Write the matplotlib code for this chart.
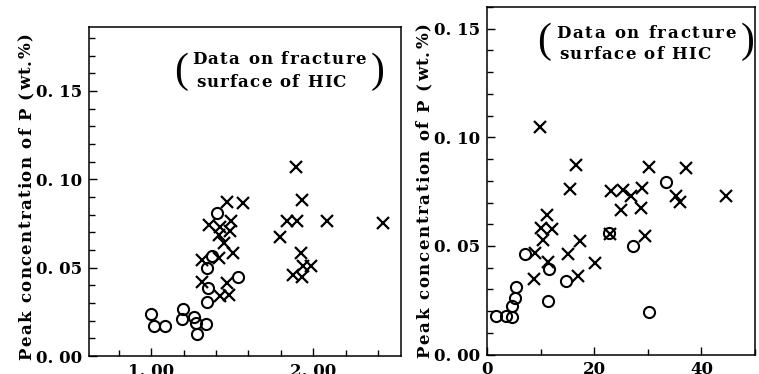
import matplotlib.pyplot as plt
from matplotlib.ticker import MultipleLocator
from matplotlib.font_manager import FontProperties, findfont
from matplotlib.ft2font import FT2Font
from matplotlib.transforms import offset_copy

# left panel: x is ratio, y is peak P concentration (wt.%)
left_circle_x = [0.998, 1.020, 1.085, 1.197, 1.193, 1.263, 1.280, 1.282, 1.339,
                 1.345, 1.350, 1.345, 1.374, 1.407, 1.534]
left_circle_y = [0.0236, 0.0170, 0.0170, 0.0265, 0.0208, 0.0222, 0.0187, 0.0122, 0.0183,
                 0.0303, 0.0385, 0.0499, 0.0568, 0.0807, 0.0447]
left_cross_x = [1.466, 1.567, 1.359, 1.422, 1.490, 1.487, 1.419, 1.447, 1.505, 1.419,
                1.312, 1.312, 1.468, 1.425, 1.478, 1.893, 1.929, 1.840, 1.898, 2.083,
                2.431, 1.795, 1.923, 1.938, 1.986, 1.877, 1.929]
left_cross_y = [0.0873, 0.0863, 0.0743, 0.0732, 0.0765, 0.0707, 0.0684, 0.0642, 0.0581, 0.0553,
                0.0545, 0.0419, 0.0413, 0.0342, 0.0347, 0.1071, 0.0882, 0.0764, 0.0764, 0.0764,
                0.0751, 0.0671, 0.0580, 0.0512, 0.0509, 0.0458, 0.0447]

# right panel
right_circle_x = [1.58, 3.54, 4.66, 4.56, 5.21, 5.31, 7.02, 11.55, 11.40, 14.62,
                  22.81, 27.23, 30.13, 33.43]
right_circle_y = [0.0177, 0.0176, 0.0172, 0.0222, 0.0261, 0.0312, 0.0465, 0.0394, 0.0248, 0.0337,
                  0.0558, 0.0501, 0.0196, 0.0795]
right_cross_x = [9.78, 16.48, 15.49, 11.08, 9.96, 12.01, 10.47, 8.85, 11.42, 8.73,
                 14.99, 17.36, 17.0, 20.06, 22.87, 23.05, 25.33, 26.78, 24.92, 28.81,
                 28.73, 30.22, 29.37, 37.15, 35.34, 35.98, 44.66]
right_cross_y = [0.1050, 0.0872, 0.0761, 0.0642, 0.0583, 0.0579, 0.0528, 0.0469, 0.0424, 0.0347,
                 0.0461, 0.0522, 0.0361, 0.0422, 0.0555, 0.0754, 0.0758, 0.0730, 0.0667, 0.0765,
                 0.0675, 0.0864, 0.0546, 0.0858, 0.0729, 0.0703, 0.0729]

y_ticks = [0.0, 0.05, 0.10, 0.15]
y_tick_labels = ['0. 00', '0. 05', '0. 10', '0. 15']
left_x_ticks = [1.0, 2.0]
left_x_tick_labels = ['1. 00', '2. 00']
right_x_ticks = [0, 20, 40]
right_x_tick_labels = ['0', '20', '40']

ylabel = 'Peak concentration of P (wt.%)'
note_1 = 'Data on fracture'
note_2 = 'surface of HIC'

W, H = 759, 374
font = {'family': 'DejaVu Serif', 'weight': 'bold'}

fig = plt.figure(figsize=(W / 100, H / 100), dpi=100)
ax1 = fig.add_axes([0.1177, 0.0481, 0.4107, 0.879])
ax2 = fig.add_axes([0.642, 0.0521, 0.3527, 0.929])


def spaced_text(x_px, y_px, s, size, length_px, rotation=0):
    # letter-spaced text, stretched so its run is length_px long
    prop = FontProperties(family='DejaVu Serif', weight='bold', size=size)
    ft = FT2Font(findfont(prop))
    ft.set_size(size, 72)
    adv = [ft.load_char(ord(c)).linearHoriAdvance / 65536 for c in s]
    track = (length_px * 0.72 - sum(adv)) / (len(s) - 1)
    pos = 0.0
    for c, a in zip(s, adv):
        if c != ' ':
            dx, dy = (0, pos) if rotation else (pos, 0)
            tr = offset_copy(fig.transFigure, fig, x=dx, y=dy, units='points')
            fig.text(x_px / W, 1 - y_px / H, c, transform=tr, rotation=rotation,
                     rotation_mode='anchor', ha='left', va='baseline', fontproperties=prop)
        pos += a + track


def style(ax, xmaj, xlab, xminor):
    ax.set_yticks(y_ticks)
    ax.set_yticklabels(y_tick_labels, fontdict=font, fontsize=12)
    ax.yaxis.set_minor_locator(MultipleLocator(0.01))
    ax.set_xticks(xmaj)
    ax.set_xticklabels(xlab, fontdict=font, fontsize=12)
    ax.xaxis.set_minor_locator(MultipleLocator(xminor))
    ax.tick_params(which='both', direction='in', width=1.0, pad=5)
    ax.tick_params(which='major', length=6)
    ax.tick_params(which='minor', length=4.5)
    for sp in ax.spines.values():
        sp.set_linewidth(1.1)


ax1.plot(left_circle_x, left_circle_y, 'o', mfc='none', mec='black', ms=8, mew=1.5)
ax1.plot(left_cross_x, left_cross_y, 'x', color='black', ms=8.5, mew=1.6)
ax1.set_xlim(0.62, 2.54)
ax1.set_ylim(0, 0.186)
style(ax1, left_x_ticks, left_x_tick_labels, 0.2)

ax2.plot(right_circle_x, right_circle_y, 'o', mfc='none', mec='black', ms=8, mew=1.5)
ax2.plot(right_cross_x, right_cross_y, 'x', color='black', ms=8.5, mew=1.6)
ax2.set_xlim(0, 50)
ax2.set_ylim(0, 0.16)
style(ax2, right_x_ticks, right_x_tick_labels, 10)

# y labels (rotated, letter-spaced)
spaced_text(31, 360, ylabel, 12, 327, rotation=90)
spaced_text(429, 358, ylabel, 12, 335, rotation=90)

# bracketed notes
spaced_text(192, 64, note_1, 12, 174)
spaced_text(196, 87, note_2, 12, 150)
spaced_text(556, 38, note_1, 12, 180)
spaced_text(559, 59, note_2, 12, 152)
for x_px, y_px, p in [(181, 72, '('), (378, 72, ')'), (544, 42, '('), (748, 42, ')')]:
    fig.text(x_px / W, 1 - y_px / H, p, ha='center', va='center',
             family='Liberation Serif', fontsize=30)

fig.savefig('out.png', dpi=100)
